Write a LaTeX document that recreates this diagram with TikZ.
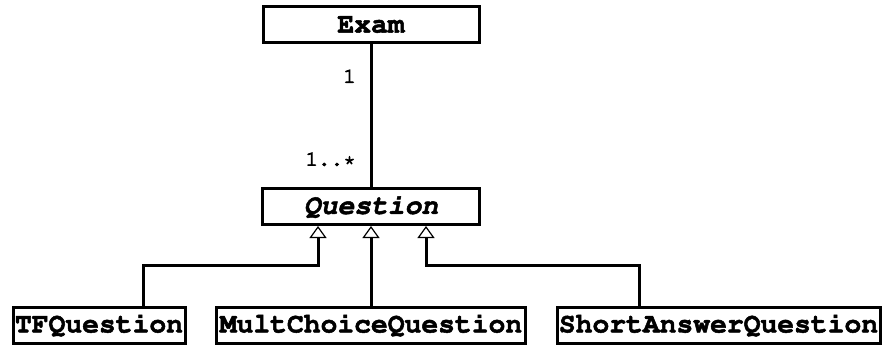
\documentclass[tikz,border=0pt]{standalone}
\usepackage[T1]{fontenc}
\renewcommand{\ttdefault}{pcr}
\usetikzlibrary{arrows.meta}
% heavier glyph outlines: fill and stroke the text
\newcommand{\heavytext}[2]{\special{pdf:literal direct 2 Tr #1 w}#2\special{pdf:literal direct 0 Tr}}
\tikzset{
  classbox/.style={draw, line width=3pt, fill=white, inner sep=0pt,
    minimum height=36pt, font=\fontsize{28}{28}\selectfont\ttfamily\bfseries},
  link/.style={line width=3pt},
  inh/.style={line width=3pt, -{Triangle[open, length=12pt, width=17pt, line width=1.2pt]}},
  mult/.style={font=\fontsize{21}{21}\selectfont\ttfamily, inner sep=0pt, anchor=east}
}
\begin{document}
\begin{tikzpicture}[x=1pt, y=-1pt]
  \useasboundingbox (0,0) rectangle (884,345);
  % classes
  \node[classbox, minimum width=216pt] (exam) at (371,25) {\heavytext{0.5}{Exam}};
  \node[classbox, minimum width=217pt] (q) at (371,206.5) {\itshape\heavytext{0.5}{Question}};
  \node[classbox, minimum width=172pt] (tf) at (99,325) {\heavytext{0.5}{TFQuestion}};
  \node[classbox, minimum width=309pt] (mc) at (371,325) {\heavytext{0.5}{MultChoiceQuestion}};
  \node[classbox, minimum width=323pt] (sa) at (718.5,325) {\heavytext{0.5}{ShortAnswerQuestion}};
  % association with multiplicities
  \draw[link] (exam.south) -- (q.north);
  \node[mult] (m1) at (356,76) {\heavytext{0.8}{1}};
  \node[mult] (m2) at (356,159) {\heavytext{0.8}{1..*}};
  % generalizations
  \coordinate (jl) at (318,265);
  \coordinate (jr) at (426,265);
  \coordinate (tfin) at (143,265);
  \coordinate (sain) at (639,265);
  \draw[inh] (tfin |- tf.north) -- (tfin) -- (jl) -- (jl |- q.south);
  \draw[inh] (mc.north) -- (q.south);
  \draw[inh] (sain |- sa.north) -- (sain) -- (jr) -- (jr |- q.south);
\end{tikzpicture}
\end{document}
